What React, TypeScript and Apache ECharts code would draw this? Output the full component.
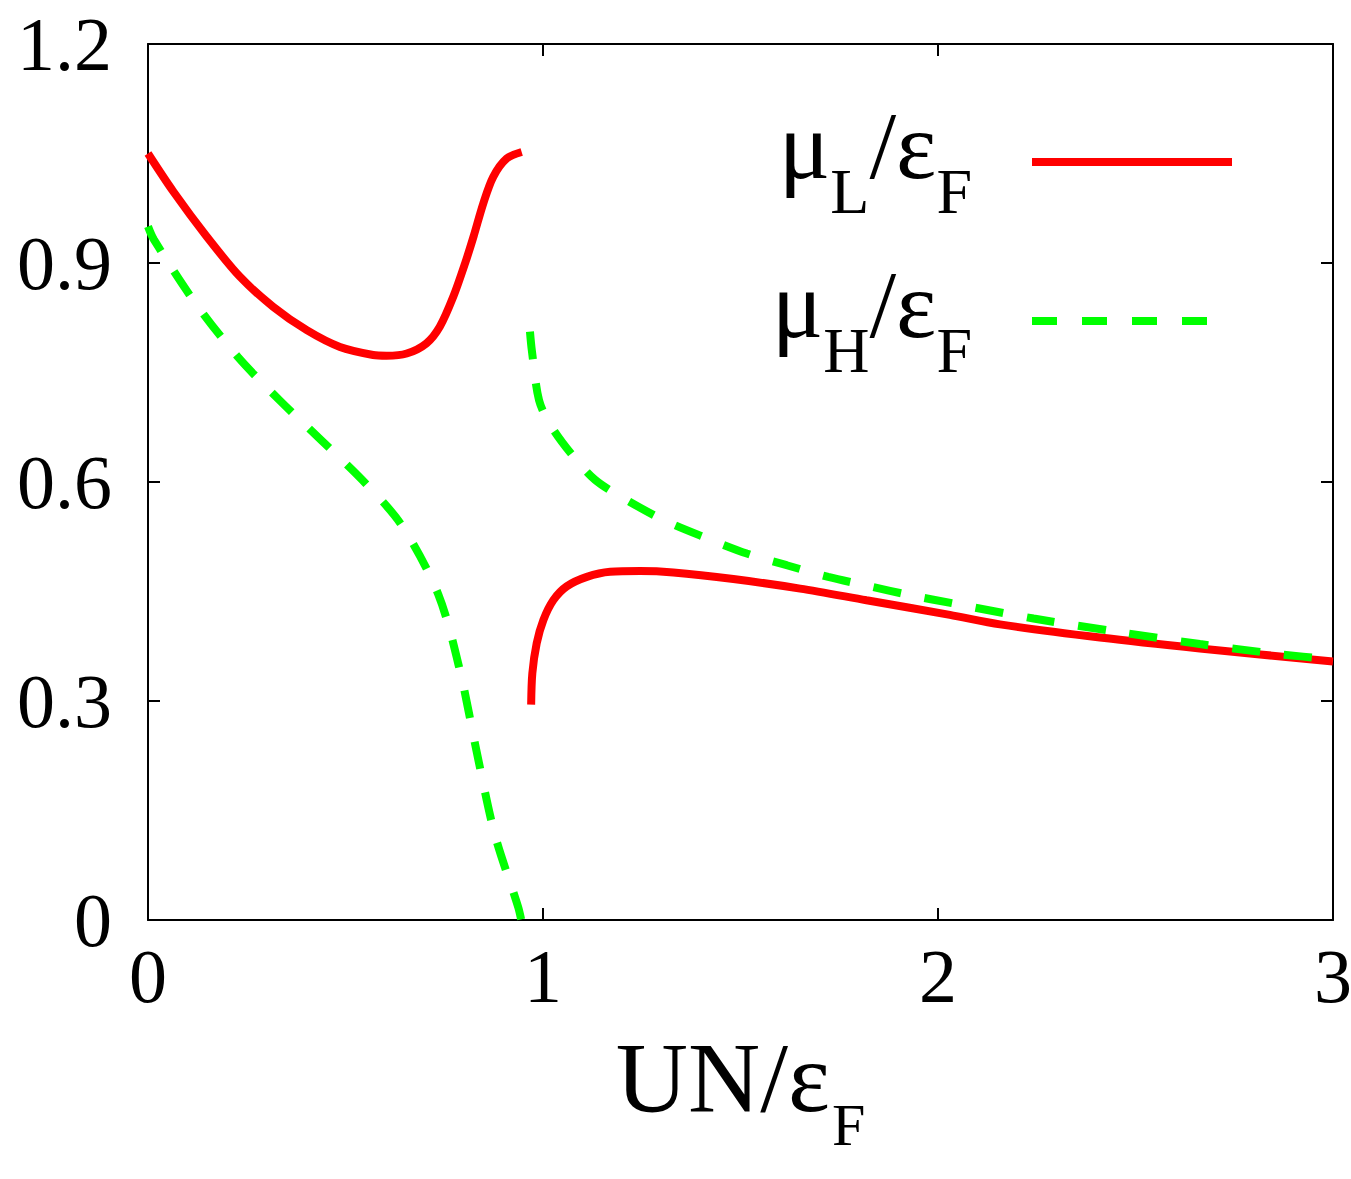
import React, { useEffect, useRef } from 'react';
import * as echarts from 'echarts';

// x: UN/εF, y: μ/εF
const xTickValues = [0, 1, 2, 3];
const yTickValues = [0, 0.3, 0.6, 0.9, 1.2];

const seriesNames = ['μL', 'μH'];

// μL/εF, solid red, lower-U branch
const muLBranch1: [number, number][] = [
  [0, 1.05], [0.064, 0.998], [0.149, 0.936], [0.233, 0.881], [0.317, 0.84],
  [0.402, 0.808], [0.486, 0.785], [0.57, 0.774], [0.604, 0.773], [0.655, 0.776],
  [0.705, 0.79], [0.739, 0.813], [0.773, 0.854], [0.803, 0.9], [0.824, 0.936],
  [0.849, 0.982], [0.874, 1.018], [0.908, 1.043], [0.946, 1.052],
];
// μL/εF, branch after the gap
const muLBranch2: [number, number][] = [
  [0.97, 0.295], [0.973, 0.338], [0.984, 0.379], [1.001, 0.411], [1.026, 0.438],
  [1.06, 0.457], [1.111, 0.47], [1.17, 0.477], [1.246, 0.478], [1.33, 0.476],
  [1.482, 0.467], [1.651, 0.454], [1.819, 0.438], [2.03, 0.418], [2.157, 0.405],
  [2.41, 0.387], [2.663, 0.372], [3.0, 0.354],
];
// μH/εF, dashed green, falling branch
const muHBranch1: [number, number][] = [
  [0, 0.95], [0.015, 0.932], [0.12, 0.845], [0.228, 0.771], [0.335, 0.711],
  [0.439, 0.657], [0.542, 0.603], [0.642, 0.541], [0.735, 0.446], [0.79, 0.341],
  [0.833, 0.228], [0.878, 0.117], [0.937, 0.018], [0.945, 0],
];
// μH/εF, branch after the gap
const muHBranch2: [number, number][] = [
  [0.967, 0.806], [0.972, 0.779], [0.99, 0.712], [1.02, 0.677], [1.077, 0.635],
  [1.132, 0.603], [1.203, 0.578], [1.305, 0.548], [1.41, 0.524], [1.516, 0.502],
  [1.617, 0.486], [1.722, 0.47], [1.828, 0.457], [1.929, 0.445], [2.035, 0.434],
  [2.242, 0.413], [2.452, 0.395], [2.663, 0.378], [2.866, 0.364], [3.0, 0.357],
];

const FONT = 'Liberation Serif';
const RED = '#ff0000';
const GREEN = '#00ff00';

export default function App() {
  const ref = useRef<HTMLDivElement>(null);
  useEffect(() => {
    const chart = echarts.init(ref.current!, null, { renderer: 'svg' });
    const axisLine = { show: true, onZero: false, lineStyle: { color: '#000', width: 2 } };
    const axisTick = { show: true, inside: true, length: 12, lineStyle: { color: '#000', width: 2 } };
    const xMin = xTickValues[0];
    const xMax = xTickValues[xTickValues.length - 1];
    const xInt = xTickValues[1] - xTickValues[0];
    const yMin = yTickValues[0];
    const yMax = yTickValues[yTickValues.length - 1];
    const yInt = yTickValues[1] - yTickValues[0];

    const legendRich = {
      m: { fontFamily: FONT, fontSize: 96, color: '#000', padding: [0, 0, 33, 0] },
      s: { fontFamily: FONT, fontSize: 64, color: '#000', padding: [59, 0, 0, 0] },
      e: { fontFamily: FONT, fontSize: 64, color: '#000', padding: [59, 55, 0, 0] },
    };
    const legendText = (name: string) =>
      name === 'μL' ? '{m|μ}{s|L}{m|/ε}{e|F}' : '{m|μ}{s|H}{m|/ε}{e|F}';

    const gap = (b: [number, number][]) => [b[b.length - 1][0] + 0.01, '-'];

    chart.setOption({
      animation: false,
      backgroundColor: '#ffffff',
      grid: { left: 148, right: 18, top: 44, bottom: 259, containLabel: false, outerBoundsMode: 'none' },
      xAxis: [
        {
          type: 'value', min: xMin, max: xMax, interval: xInt, position: 'bottom',
          axisLine, axisTick, splitLine: { show: false },
          axisLabel: { fontFamily: FONT, fontSize: 76, color: '#000', margin: 18, showMinLabel: true, showMaxLabel: true },
          name: '{m|UN/ε}{s|F}', nameLocation: 'middle', nameGap: 80, nameMoveOverlap: false,
          nameTextStyle: {
            fontFamily: FONT, color: '#000',
            rich: {
              m: { fontFamily: FONT, fontSize: 100, color: '#000' },
              s: { fontFamily: FONT, fontSize: 60, color: '#000', padding: [95, 0, 0, 2] },
            },
          },
        },
        {
          type: 'value', min: xMin, max: xMax, interval: xInt, position: 'top',
          axisLine, axisTick, splitLine: { show: false }, axisLabel: { show: false },
        },
      ],
      yAxis: [
        {
          type: 'value', min: yMin, max: yMax, interval: yInt, position: 'left',
          axisLine, axisTick, splitLine: { show: false },
          axisLabel: {
            fontFamily: FONT, fontSize: 76, color: '#000', margin: 36, padding: [0, 0, 14, 0],
            showMinLabel: true, showMaxLabel: true,
          },
        },
        {
          type: 'value', min: yMin, max: yMax, interval: yInt, position: 'right',
          axisLine, axisTick, splitLine: { show: false }, axisLabel: { show: false },
        },
      ],
      legend: [
        {
          data: [seriesNames[0]], orient: 'vertical', align: 'right', right: 115, top: 97.5, padding: 0,
          itemWidth: 200, itemHeight: 8, selectedMode: false, formatter: legendText,
          lineStyle: { color: RED, width: 8, type: 'solid', cap: 'butt' },
          itemStyle: { opacity: 0 },
          textStyle: { fontFamily: FONT, color: '#000', rich: legendRich },
        },
        {
          data: [seriesNames[1]], orient: 'vertical', align: 'right', right: 115, top: 256.5, padding: 0,
          itemWidth: 200, itemHeight: 8, selectedMode: false, formatter: legendText,
          lineStyle: { color: GREEN, width: 8, type: [25, 25], cap: 'butt' },
          itemStyle: { opacity: 0 },
          textStyle: { fontFamily: FONT, color: '#000', rich: legendRich },
        },
      ],
      series: [
        {
          name: seriesNames[0], type: 'line', xAxisIndex: 0, yAxisIndex: 0,
          data: [...muLBranch1, gap(muLBranch1), ...muLBranch2],
          smooth: 0.3, symbol: 'none', showSymbol: false, connectNulls: false,
          lineStyle: { color: RED, width: 8, cap: 'butt' }, itemStyle: { color: RED },
          z: 3,
        },
        {
          name: seriesNames[1], type: 'line', xAxisIndex: 0, yAxisIndex: 0,
          data: [...muHBranch1, gap(muHBranch1), ...muHBranch2],
          smooth: 0.3, symbol: 'none', showSymbol: false, connectNulls: false,
          lineStyle: { color: GREEN, width: 8, type: [28, 24], cap: 'butt' }, itemStyle: { color: GREEN },
          z: 4,
        },
      ],
    });
    return () => chart.dispose();
  }, []);
  return <div ref={ref} style={{ position: 'fixed', left: 0, top: 0, width: 1351, height: 1179 }} />;
}
